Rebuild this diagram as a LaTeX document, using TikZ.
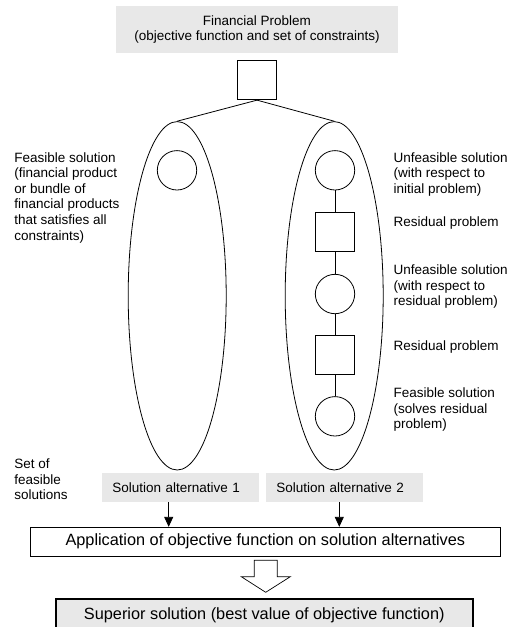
\documentclass[tikz,border=0pt]{standalone}
\usepackage{fontspec}
\setmainfont{Liberation Sans}
\usepackage{tikz}
\usetikzlibrary{shapes.geometric}
\usetikzlibrary{arrows.meta}
\usetikzlibrary{calc}

\definecolor{boxgray}{HTML}{E8E8E8}

\tikzset{
  lbl/.style={font=\fontsize{13.5}{15.6}\selectfont, align=left, inner sep=0, anchor=north west},
  altbox/.style={fill=boxgray, font=\fontsize{13.5}{15.6}\selectfont, text width=136.7pt, align=left,
    inner xsep=10pt, inner ysep=0, minimum height=29pt, anchor=north west},
  sq/.style={draw, shape=rectangle, minimum size=39.5pt, inner sep=0},
  ci/.style={draw, shape=circle, minimum size=39.4pt, inner sep=0}
}

\begin{document}
\begin{tikzpicture}[x=1pt, y=-1pt, line width=0.8pt]
\useasboundingbox (0,0) rectangle (513,627);

\node[fill=boxgray, minimum width=282pt, minimum height=47.6pt, align=center,
  font=\fontsize{13.5}{15}\selectfont] (problem) at (257,29.5)
  {Financial Problem\\(objective function and set of constraints)};

\node[sq] (root) at (257,80) {};

\node[draw, ellipse, minimum width=98pt, minimum height=348.4pt, inner sep=0] (set1) at (177.2,295.8) {};
\node[draw, ellipse, minimum width=98pt, minimum height=348.4pt, inner sep=0] (set2) at (334.2,295.8) {};
\draw (root.south) -- (set1.north);
\draw (root.south) -- (set2.north);

\node[ci] (l1) at (177,170.3) {};

\foreach \n/\y/\s in {1/170.3/ci, 2/232/sq, 3/294/ci, 4/355/sq, 5/416.3/ci}
   \node[\s] (r\n) at (335,\y) {};
\foreach \a/\b in {r1/r2, r2/r3, r3/r4, r4/r5}
   \draw (\a) -- (\b);

\path
(14,152) node[lbl] (lfeas) {Feasible solution\\(financial product\\or bundle of\\financial products\\that satisfies all\\constraints)}
(393.3,152) node[lbl] (runf1) {Unfeasible solution\\(with respect to\\initial problem)}
(393.3,216) node[lbl] (rres1) {Residual problem}
(393.3,264.5) node[lbl] (runf2) {Unfeasible solution\\(with respect to\\residual problem)}
(393.3,340.3) node[lbl] (rres2) {Residual problem}
(393.3,387.6) node[lbl] (rfeas) {Feasible solution\\(solves residual\\problem)}
(14,458.6) node[lbl] (setlbl) {Set of\\feasible\\solutions};

\node[altbox] (alt1) at (102,472.3) {Solution alternative 1};
\node[altbox] (alt2) at (266,472.3) {Solution alternative 2};

\node[draw, minimum width=469.3pt, minimum height=28.7pt, font=\fontsize{16.3}{19}\selectfont] (app) at (265.3,541.6)
  {Application of objective function on solution alternatives};

\coordinate (a1) at (168.7,0);
\coordinate (a2) at (339.3,0);
\draw[-{Triangle[length=10pt,width=9pt]}] (alt1.south -| a1) -- (app.north -| a1);
\draw[-{Triangle[length=10pt,width=9pt]}] (alt2.south -| a2) -- (app.north -| a2);

% hollow arrow
\draw[line width=0.7pt] (254.3,560.3) -- (277.3,560.3) -- (277.3,576.7) -- (290.3,576.7)
  -- (265.7,592.3) -- (241.3,576.7) -- (254.3,576.7) -- cycle;

\node[draw, line width=2.3pt, fill=boxgray, minimum width=416.7pt, text height=12pt, text depth=30pt,
  inner ysep=8.5pt, anchor=base, font=\fontsize{16.3}{19}\selectfont] (best) at (264.3,619.8)
  {Superior solution (best value of objective function)};

\end{tikzpicture}
\end{document}
